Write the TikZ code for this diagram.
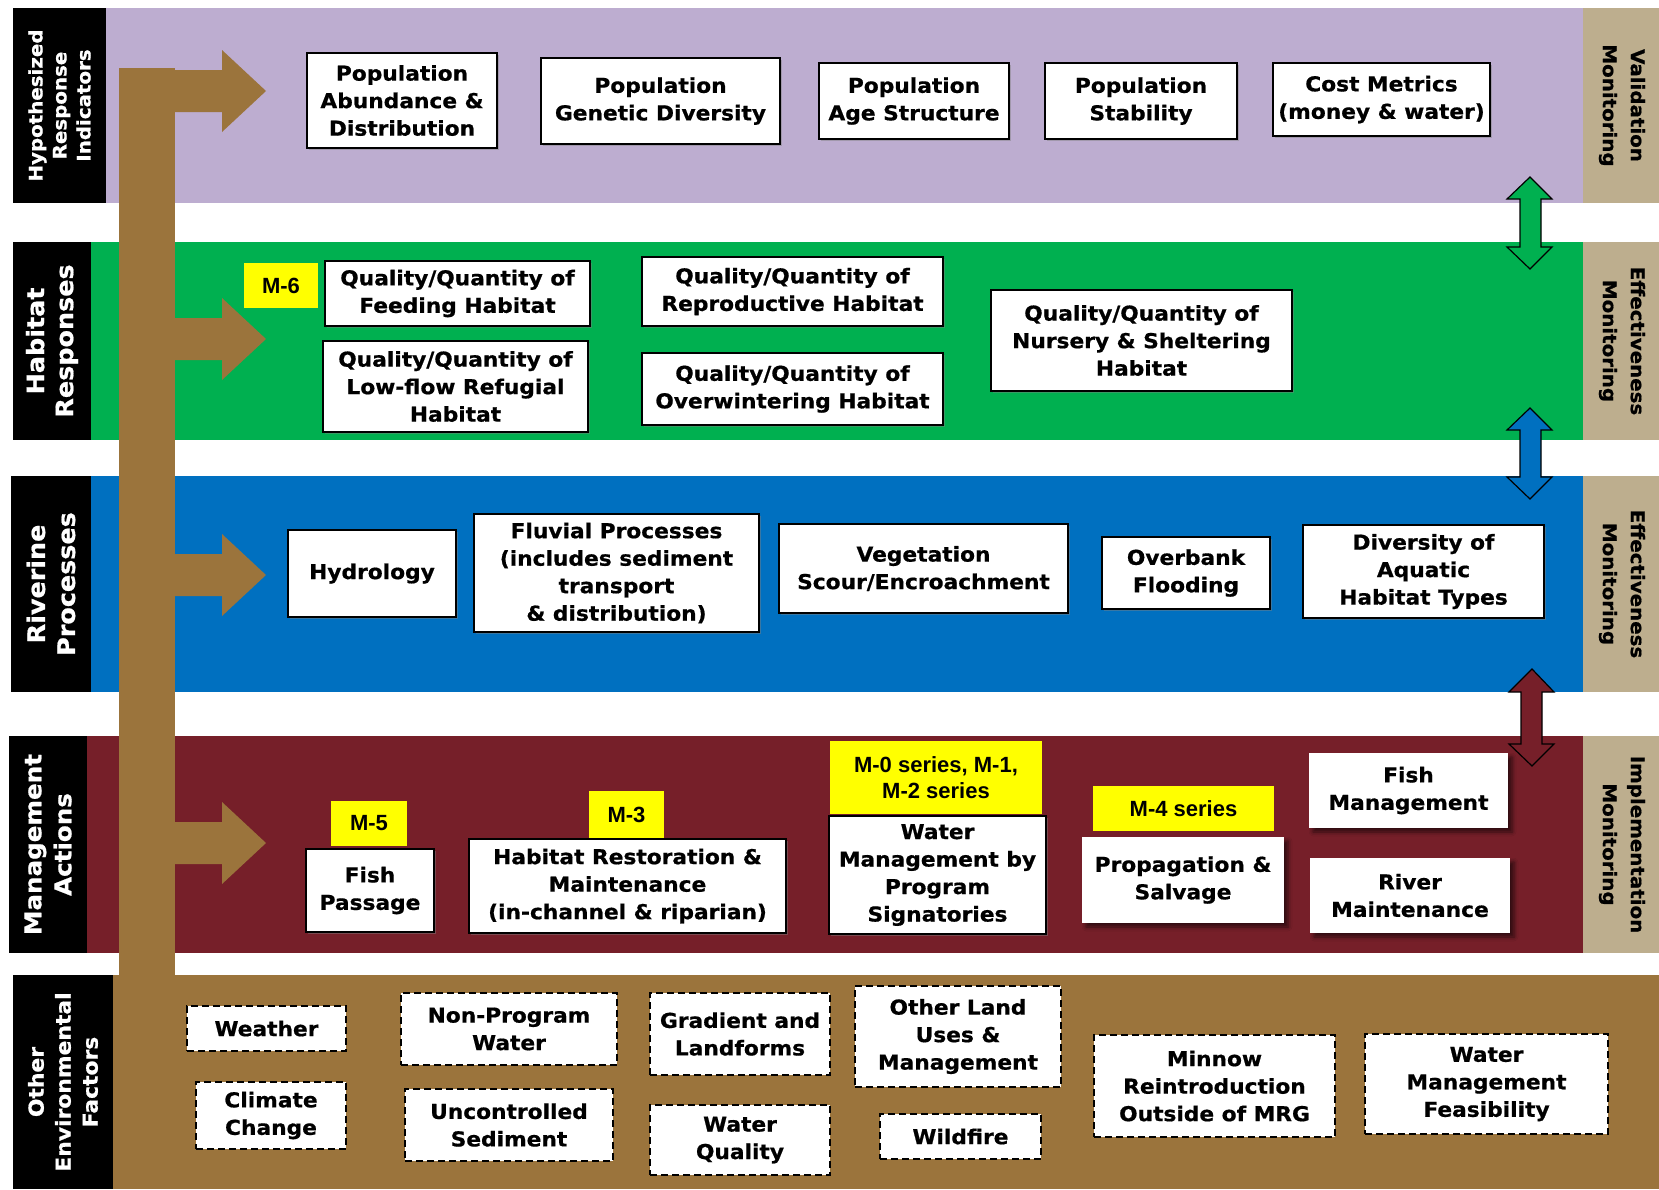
\documentclass[tikz,border=0pt]{standalone}
\usepackage{fontspec}
\setmainfont{DejaVu Sans}
\newfontfamily\widefam[FakeStretch=1.06, BoldFeatures={FakeBold=0.7}]{DejaVu Sans}
\newfontfamily\arialfam{Liberation Sans}
\usetikzlibrary{shadows,shadows.blur}

\definecolor{cpurple}{HTML}{BDADD0}
\definecolor{cgreen}{HTML}{00B050}
\definecolor{cblue}{HTML}{0070C0}
\definecolor{cmaroon}{HTML}{761F29}
\definecolor{cbrown}{HTML}{9B743C}
\definecolor{ctan}{HTML}{BDAE8E}
\definecolor{cyellow}{HTML}{FFFF00}

\newcommand\wfnt{\widefam\bfseries\fontsize{20.5}{27.5}\selectfont}
\newcommand\yfnt{\arialfam\bfseries\fontsize{22}{26}\selectfont}
\newcommand\lfnt[2]{\widefam\bfseries\fontsize{#1}{#2}\selectfont}

\newcommand\bx[7]{%
  \pgfmathsetmacro\bxcx{(#3+#5)/2}%
  \pgfmathsetmacro\bxcy{(#4+#6)/2}%
  \pgfmathsetmacro\bxw{#5-#3}%
  \pgfmathsetmacro\bxh{#6-#4}%
  \node[#2, minimum width=\bxw pt, minimum height=\bxh pt] (#1) at (\bxcx,\bxcy) {#7};}

\tikzset{
  wbox/.style={draw=black, line width=1.6pt, fill=white, inner sep=0pt, align=center, font=\wfnt,
    drop shadow={shadow xshift=2pt, shadow yshift=-2pt, opacity=0.45}},
  sbox/.style={fill=white, inner sep=0pt, align=center, font=\wfnt,
    blur shadow={shadow xshift=4pt, shadow yshift=-4pt, shadow blur radius=4pt, shadow opacity=60}},
  dbox/.style={draw=black, line width=1.5pt, dash pattern=on 7pt off 4pt, fill=white, inner sep=0pt, align=center, font=\wfnt},
  ybox/.style={fill=cyellow, inner sep=0pt, align=center, font=\yfnt},
  lab/.style={text=white, inner sep=0pt, align=center, rotate=90},
  rlab/.style={text=black, inner sep=0pt, align=center, rotate=-90, font={\lfnt{18.7}{28}}},
  dbl/.style={draw=black, line width=1.2pt, line join=miter},
}

\begin{document}
\begin{tikzpicture}[x=1pt,y=-1pt]
\fill[white] (0,0) rectangle (1659,1189);
\useasboundingbox (0,0) rectangle (1659,1189);

% bands
\fill[black] (13,8) rectangle (106,203);
\fill[cpurple] (106,8) rectangle (1583,203);
\fill[ctan] (1583,8) rectangle (1659,203);

\fill[black] (13,242) rectangle (91,440);
\fill[cgreen] (91,242) rectangle (1583,440);
\fill[ctan] (1583,242) rectangle (1659,440);

\fill[black] (11,476) rectangle (91,692);
\fill[cblue] (91,476) rectangle (1583,692);
\fill[ctan] (1583,476) rectangle (1659,692);

\fill[black] (9,736) rectangle (87,953);
\fill[cmaroon] (87,736) rectangle (1583,953);
\fill[ctan] (1583,736) rectangle (1659,953);

\fill[black] (13,975) rectangle (113,1189);
\fill[cbrown] (113,975) rectangle (1659,1189);

% left labels
\node[lab, font={\lfnt{18.7}{24}}] (lhri) at (59.5,105.5) {Hypothesized\\Response\\Indicators};
\node[lab, font={\lfnt{24}{29}}] (lhab) at (52,341) {Habitat\\Responses};
\node[lab, font={\lfnt{24}{30}}] (lriv) at (51,584) {Riverine\\Processes};
\node[lab, font={\lfnt{23.2}{30}}] (lman) at (48,844.5) {Management\\Actions};
\node[lab, font={\lfnt{20.6}{27}}] (loth) at (63,1082) {Other\\Environmental\\Factors};

% right labels
\node[rlab] (rval) at (1622,105.5) {Validation\\Monitoring};
\node[rlab] (reff1) at (1622,341) {Effectiveness\\Monitoring};
\node[rlab] (reff2) at (1622,584) {Effectiveness\\Monitoring};
\node[rlab] (rimp) at (1622,844.5) {Implementation\\Monitoring};

% main brown bar and arrows
\fill[cbrown] (119,68) rectangle (175,976);
\foreach \yy in {91,339,575,843}{
  \fill[cbrown] (174,\yy-21) -- (222,\yy-21) -- (222,\yy-41) -- (266,\yy) -- (222,\yy+41) -- (222,\yy+21) -- (174,\yy+21) -- cycle;
}

% double arrows
\filldraw[dbl, fill=cgreen] (1530,177) -- (1552,199) -- (1541,199) -- (1541,247) -- (1552,247) -- (1530,269) -- (1507,247) -- (1520,247) -- (1520,199) -- (1507,199) -- cycle;
\filldraw[dbl, fill=cblue] (1530,408) -- (1552,430) -- (1541,430) -- (1541,477) -- (1552,477) -- (1530,499) -- (1507,477) -- (1520,477) -- (1520,430) -- (1507,430) -- cycle;
\filldraw[dbl, fill=cmaroon] (1532,669) -- (1554,692) -- (1542,692) -- (1542,744) -- (1554,744) -- (1532,766) -- (1509,744) -- (1521,744) -- (1521,692) -- (1509,692) -- cycle;

% purple row
\bx{pab}{wbox}{307}{53}{497}{148}{Population\\Abundance \&\\Distribution}
\bx{pgd}{wbox}{541}{58}{780}{144}{Population\\Genetic Diversity}
\bx{pas}{wbox}{819}{63}{1009}{139}{Population\\Age Structure}
\bx{pst}{wbox}{1045}{63}{1237}{139}{Population\\Stability}
\bx{pcm}{wbox}{1273}{63}{1490}{136}{Cost Metrics\\(money \& water)}

% green row
\bx{m6}{ybox}{244}{263}{318}{308}{M-6}
\bx{hfe}{wbox}{325}{261}{590}{326}{Quality/Quantity of\\Feeding Habitat}
\bx{hlf}{wbox}{323}{341}{588}{432}{Quality/Quantity of\\Low-flow Refugial\\Habitat}
\bx{hre}{wbox}{642}{257}{943}{326}{Quality/Quantity of\\Reproductive Habitat}
\bx{hov}{wbox}{642}{353}{943}{425}{Quality/Quantity of\\Overwintering Habitat}
\bx{hns}{wbox}{991}{290}{1292}{391}{Quality/Quantity of\\Nursery \& Sheltering\\Habitat}

% blue row
\bx{rhy}{wbox}{288}{530}{456}{617}{Hydrology}
\bx{rfl}{wbox}{474}{514}{759}{632}{Fluvial Processes\\(includes sediment\\transport\\\& distribution)}
\bx{rve}{wbox}{779}{524}{1068}{613}{Vegetation\\Scour/Encroachment}
\bx{rob}{wbox}{1102}{537}{1270}{609}{Overbank\\Flooding}
\bx{rdi}{wbox}{1303}{525}{1544}{618}{Diversity of\\Aquatic\\Habitat Types}

% maroon row
\bx{m5}{ybox}{331}{801}{407}{846}{M-5}
\bx{afp}{wbox}{306}{849}{434}{932}{Fish\\Passage}
\bx{m3}{ybox}{589}{791}{664}{838}{M-3}
\bx{ahr}{wbox}{469}{839}{786}{933}{Habitat Restoration \&\\Maintenance\\(in-channel \& riparian)}
\bx{m0}{ybox}{830}{741}{1042}{814}{M-0 series, M-1,\\M-2 series}
\bx{awm}{wbox}{829}{816}{1046}{934}{Water\\Management by\\Program\\Signatories}
\bx{m4}{ybox}{1093}{786}{1274}{831}{M-4 series}
\bx{aps}{sbox}{1082}{837}{1284}{923}{Propagation \&\\Salvage}
\bx{afm}{sbox}{1309}{753}{1508}{828}{Fish\\Management}
\bx{arm}{sbox}{1310}{858}{1510}{933}{River\\Maintenance}

% brown row
\bx{ewe}{dbox}{187}{1006}{346}{1051}{Weather}
\bx{ecc}{dbox}{196}{1082}{346}{1149}{Climate\\Change}
\bx{enp}{dbox}{401}{993}{617}{1065}{Non-Program\\Water}
\bx{eus}{dbox}{405}{1089}{613}{1161}{Uncontrolled\\Sediment}
\bx{egl}{dbox}{650}{993}{830}{1075}{Gradient and\\Landforms}
\bx{ewq}{dbox}{650}{1105}{830}{1175}{Water\\Quality}
\bx{eol}{dbox}{855}{986}{1061}{1087}{Other Land\\Uses \&\\Management}
\bx{ewf}{dbox}{880}{1114}{1041}{1159}{Wildfire}
\bx{emr}{dbox}{1094}{1035}{1335}{1137}{Minnow\\Reintroduction\\Outside of MRG}
\bx{ewm}{dbox}{1365}{1034}{1608}{1134}{Water\\Management\\Feasibility}
\end{tikzpicture}
\end{document}
